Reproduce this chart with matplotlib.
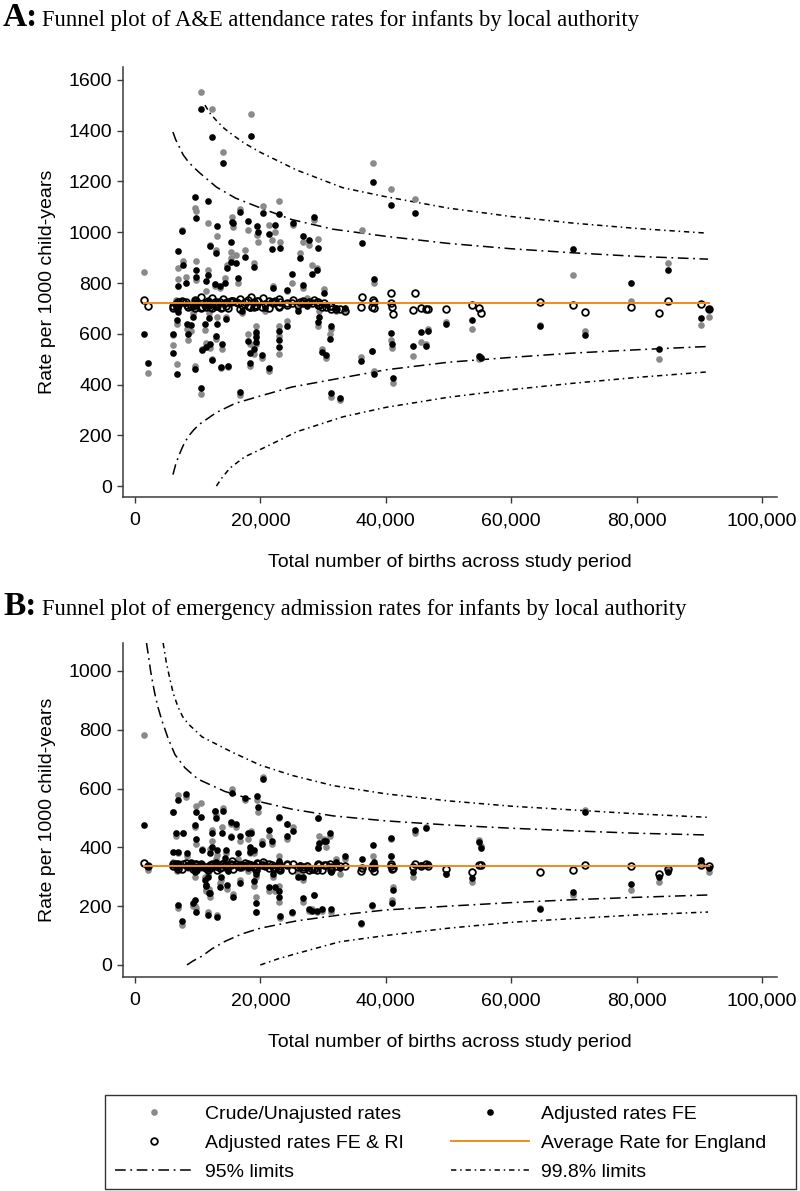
import matplotlib.pyplot as plt
from matplotlib.lines import Line2D
from matplotlib.patches import Rectangle
from matplotlib.ticker import FuncFormatter

plt.rcParams['font.family'] = ['Liberation Sans', 'DejaVu Sans']

# births per local authority (same LAs in both panels)
births = [1400, 2100,
          10500, 12300, 14000, 18450, 9600, 11600, 9700, 13100, 15500, 7500,
          12000, 15300, 6900, 13000, 7700, 9750, 14700, 15400, 11650, 9800,
          6950, 8100, 11300, 12700, 13600, 14300, 16750, 20500, 23000, 25250,
          28600, 15600, 18000, 19400, 19600, 21400, 22400, 21900, 23100, 26850,
          27800, 29200, 17500, 19000, 16200, 24990, 26300, 28300, 29000, 26800,
          22100, 24300, 16400, 30100, 6600, 6800, 6650, 9550, 9200, 11800,
          13150, 14500, 8300, 9000, 11100, 6100, 8500, 10700, 11400, 12050,
          12900, 13900, 6150, 6700, 9650, 12350, 13650, 14800, 10550, 19300,
          19250, 19350, 18300, 18050, 19050, 20200, 18400, 21450, 22950, 23050,
          23000, 24200, 29250, 29400, 29800, 30500, 31100, 31200, 16800, 31250,
          32700, 20800, 17000, 26000, 27500, 32000, 33500, 36200, 36000, 38000,
          38200, 37800, 38050,
          40800, 40900, 41000, 41100, 44700, 44400, 45700, 46400, 46800, 49600,
          53700, 54900, 55200, 64600, 69900, 71800, 79100, 83600, 85000, 90300,
          91500]

# A: A&E attendance rates per 1000 child-years
a_crude = [843, 446,
           1554, 1484, 1318, 1467, 1094, 1036, 1085, 986, 1060, 1010,
           950, 923, 860, 930, 887, 887, 870, 900, 851, 810,
           816, 822, 770, 790, 780, 820, 1090, 1103, 1124, 1030,
           1050, 1020, 1010, 990, 960, 1030, 1000, 970, 960, 960,
           950, 975, 930, 880, 910, 800, 920, 870, 860, 780,
           790, 770, 800, 775, 735, 700, 640, 700, 680, 680,
           665, 665, 617, 610, 614, 595, 575, 540, 565, 545,
           578, 540, 555, 481, 475, 500, 465, 470, 363, 630,
           600, 560, 560, 600, 520, 505, 475, 455, 630, 590,
           520, 650, 630, 690, 540, 505, 600, 620, 360, 350,
           340, 690, 680, 700, 740, 690, 690, 1009, 508, 1273,
           800, 532, 455,
           1169, 575, 545, 408, 1130, 512, 569, 560, 620, 648,
           620, 500, 510, 634, 833, 611, 730, 502, 879, 633,
           666]
a_fe = [599, 485,
        1484, 1377, 1272, 1379, 1140, 1123, 1058, 1025, 1042, 1004,
        947, 963, 926, 917, 870, 850, 858, 883, 830, 825,
        790, 800, 809, 796, 790, 800, 1081, 1075, 1072, 1038,
        1061, 1038, 1044, 1025, 1002, 993, 1029, 933, 939, 986,
        970, 937, 904, 862, 880, 835, 897, 835, 850, 792,
        780, 772, 820, 760, 720, 687, 654, 710, 666, 662,
        640, 660, 640, 634, 640, 601, 601, 536, 549, 560,
        590, 560, 523, 440, 460, 497, 470, 474, 385, 608,
        588, 569, 525, 570, 540, 516, 484, 464, 610, 575,
        547, 630, 647, 668, 529, 516, 580, 630, 372, 365,
        348, 700, 690, 690, 710, 700, 700, 958, 493, 1198,
        816, 532, 441,
        1107, 604, 560, 425, 1077, 552, 606, 552, 611, 639,
        653, 512, 506, 630, 934, 595, 801, 539, 850, 664,
        699]
a_feri = [735, 710,
          745, 740, 738, 745, 735, 730, 728, 725, 730, 728,
          722, 726, 724, 718, 725, 722, 725, 728, 724, 722,
          724, 726, 722, 724, 724, 722, 738, 740, 738, 732,
          735, 730, 732, 730, 728, 728, 730, 725, 725, 728,
          726, 726, 726, 724, 724, 722, 725, 723, 724, 722,
          720, 720, 722, 722, 718, 715, 712, 718, 714, 712,
          710, 710, 712, 710, 712, 708, 706, 704, 705, 706,
          708, 706, 702, 700, 702, 702, 700, 702, 700, 712,
          710, 708, 706, 708, 706, 704, 704, 702, 710, 708,
          706, 712, 712, 714, 706, 704, 708, 710, 698, 697,
          696, 716, 712, 714, 720, 698, 690, 745, 704, 735,
          725, 706, 700,
          759, 720, 705, 679, 761, 694, 703, 696, 696, 699,
          712, 700, 683, 726, 713, 687, 707, 683, 729, 719,
          697]

# B: emergency admission rates per 1000 child-years
b_crude = [782, 323,
           550, 460, 535, 455, 470, 180, 195, 170, 600, 136,
           395, 480, 578, 510, 450, 410, 260, 440, 306, 540,
           195, 570, 250, 525, 280, 350, 420, 640, 500, 470,
           238, 240, 430, 560, 520, 440, 250, 410, 160, 215,
           185, 400, 560, 380, 470, 175, 330, 190, 180, 290,
           300, 480, 360, 430, 440, 380, 320, 200, 200, 260,
           375, 380, 370, 340, 300, 520, 330, 395, 255, 230,
           360, 470, 350, 330, 300, 420, 290, 330, 330, 230,
           180, 300, 380, 320, 270, 420, 395, 250, 270, 370,
           215, 430, 500, 440, 185, 400, 440, 180, 290, 320,
           310, 350, 330, 310, 340, 360, 360, 330, 140, 370,
           330, 200, 340,
           430, 370, 221, 265, 450, 300, 335, 470, 340, 310,
           283, 425, 405, 195, 238, 527, 255, 283, 330, 345,
           317]
b_fe = [476, 335,
        504, 448, 525, 448, 476, 170, 181, 162, 586, 150,
        380, 487, 561, 500, 449, 427, 272, 436, 300, 520,
        204, 580, 272, 525, 266, 365, 440, 632, 504, 456,
        238, 232, 448, 573, 538, 460, 266, 420, 167, 227,
        190, 397, 567, 390, 480, 181, 340, 185, 185, 300,
        310, 478, 380, 420, 449, 383, 330, 221, 210, 245,
        390, 392, 380, 350, 290, 521, 340, 391, 270, 245,
        350, 450, 383, 345, 315, 400, 300, 320, 340, 210,
        181, 310, 385, 330, 285, 412, 400, 266, 250, 355,
        230, 440, 500, 415, 190, 420, 450, 190, 280, 315,
        330, 340, 345, 300, 330, 350, 370, 360, 143, 408,
        330, 203, 350,
        431, 372, 210, 255, 459, 317, 340, 467, 345, 310,
        295, 419, 397, 190, 249, 521, 276, 300, 317, 357,
        329]
b_feri = [348, 338,
          345, 342, 345, 340, 343, 322, 324, 322, 352, 325,
          340, 344, 345, 343, 342, 341, 330, 341, 334, 345,
          326, 347, 331, 344, 330, 340, 340, 350, 344, 342,
          328, 328, 342, 348, 345, 342, 330, 340, 322, 326,
          322, 340, 347, 338, 343, 322, 336, 325, 324, 333,
          334, 343, 338, 340, 342, 338, 335, 327, 326, 331,
          338, 339, 338, 337, 333, 344, 336, 338, 331, 330,
          337, 342, 338, 336, 334, 340, 333, 335, 336, 328,
          324, 334, 338, 335, 332, 340, 339, 330, 330, 337,
          328, 341, 343, 340, 323, 340, 342, 323, 332, 334,
          335, 337, 336, 333, 336, 337, 338, 330, 318, 340,
          320, 330, 335,
          342, 338, 325, 330, 345, 333, 335, 345, 337, 325,
          317, 340, 340, 317, 323, 340, 336, 310, 325, 340,
          335]

england_a = 722
england_b = 338

# control limits
a95_x = [6060, 6500, 7000, 7700, 8500, 9400, 10370, 13000, 16000, 20000, 25000, 31600, 40000, 50000, 60000, 69860, 80000, 91400]
a95_hi = [1395, 1365, 1340, 1305, 1278, 1255, 1233, 1178, 1135, 1096, 1050, 1012, 984, 956, 935, 919, 905, 894]
a95_lo = [45, 85, 120, 160, 195, 222, 245, 290, 326, 355, 390, 420, 458, 488, 507, 524, 537, 550]
a998_hi_x = [11160, 12000, 13000, 14200, 15500, 17500, 20000, 25800, 33200, 40000, 50000, 60000, 69860, 80000, 90900]
a998_hi = [1501, 1468, 1440, 1410, 1385, 1350, 1315, 1245, 1175, 1140, 1095, 1062, 1036, 1015, 997]
a998_lo_x = [13000, 13800, 15150, 17500, 20500, 25800, 33200, 40000, 50000, 60000, 69860, 80000, 91400]
a998_lo = [0, 30, 71, 115, 150, 214, 273, 310, 350, 380, 405, 428, 450]

b95_hi_x = [1850, 2200, 2500, 2850, 3200, 3700, 4250, 5300, 6400, 8000, 10050, 14350, 19940, 25000, 31600, 40000, 50000, 60000, 70000, 80000, 91400]
b95_hi = [1095, 1045, 1000, 958, 920, 875, 835, 770, 715, 670, 632, 590, 555, 530, 507, 490, 476, 465, 456, 448, 442]
b95_lo_x = [8300, 9300, 10700, 12300, 14350, 17000, 20000, 25800, 32700, 40000, 50000, 60000, 70000, 80000, 91400]
b95_lo = [0, 14, 30, 55, 80, 105, 125, 150, 170, 187, 200, 212, 222, 230, 238]
b998_hi_x = [4500, 5000, 5500, 6100, 6860, 7600, 8500, 10690, 15470, 19940, 25000, 31600, 40000, 50000, 60000, 70000, 80000, 91400]
b998_hi = [1095, 1030, 980, 925, 878, 845, 820, 776, 724, 680, 645, 610, 582, 558, 540, 527, 514, 502]
b998_lo_x = [20000, 23000, 26000, 32700, 40000, 50000, 60000, 70000, 80000, 91400]
b998_lo = [0, 22, 40, 79, 100, 125, 145, 158, 170, 180]

GREY = '#8a8a8a'
ORANGE = '#f28a1e'
LS95 = (0, (7, 3, 1.2, 3))
LS998 = (0, (3.5, 2.5, 1, 2.5))

W, H = 800, 1191
fig = plt.figure(figsize=(W / 100, H / 100), dpi=100)


def box(l, t, r, b):
    return [l / W, 1 - b / H, (r - l) / W, (b - t) / H]


def panel(ax, crude, fe, feri, mean, curves, ylim, yticks):
    ax.plot(births, crude, 'o', color=GREY, ms=4.8, mec='none', zorder=3)
    ax.plot(births, fe, 'o', color='black', ms=4.8, mec='none', zorder=4)
    ax.plot(births, feri, 'o', mfc='none', mec='black', mew=1.3, ms=4.8, zorder=5)
    ax.plot([min(births), max(births)], [mean, mean], color=ORANGE, lw=1.4, zorder=6)
    for xs, ys, ls in curves:
        ax.plot(xs, ys, color='black', lw=1.1, ls=ls, zorder=2)
    ax.set_xlim(-1900, 102400)
    ax.set_ylim(*ylim)
    ax.set_yticks(yticks)
    ax.set_xticks(range(0, 100001, 20000))
    ax.xaxis.set_major_formatter(FuncFormatter(lambda v, p: f'{v:,.0f}'))
    for s in ['top', 'right']:
        ax.spines[s].set_visible(False)
    for s in ['left', 'bottom']:
        ax.spines[s].set_color('#3a3a3a')
        ax.spines[s].set_linewidth(1.1)
    ax.tick_params(direction='out', length=4, width=1, color='#3a3a3a', labelsize=14, pad=4)
    ax.tick_params(axis='x', pad=7)
    ax.set_ylabel('Rate per 1000 child-years', fontsize=14, labelpad=9)
    ax.set_xlabel('Total number of births across study period', fontsize=14, labelpad=18)


axA = fig.add_axes(box(123, 67, 777, 497))
panel(axA, a_crude, a_fe, a_feri, england_a,
      [(a95_x, a95_hi, LS95), (a95_x, a95_lo, LS95),
       (a998_hi_x, a998_hi, LS998), (a998_lo_x, a998_lo, LS998)],
      (-43, 1651), range(0, 1601, 200))

axB = fig.add_axes(box(123, 643, 777, 977))
panel(axB, b_crude, b_fe, b_feri, england_b,
      [(b95_hi_x, b95_hi, LS95), (b95_lo_x, b95_lo, LS95),
       (b998_hi_x, b998_hi, LS998), (b998_lo_x, b998_lo, LS998)],
      (-41, 1095), range(0, 1001, 200))

for yb, letter, title in [(26, 'A:', 'Funnel plot of A&E attendance rates for infants by local authority'),
                          (615, 'B:', 'Funnel plot of emergency admission rates for infants by local authority')]:
    fig.text(3 / W, 1 - yb / H, letter, fontsize=24, fontweight='bold',
             family='Liberation Serif', va='baseline')
    fig.text(42 / W, 1 - yb / H, title, fontsize=16.3, family='Liberation Serif', va='baseline')

# legend
handles = [
    Line2D([], [], ls='none', marker='o', color=GREY, mec='none', ms=4.8),
    Line2D([], [], ls='none', marker='o', mfc='none', mec='black', mew=1.3, ms=4.8),
    Line2D([], [], color='black', lw=1.1, ls=LS95),
    Line2D([], [], ls='none', marker='o', color='black', mec='none', ms=4.8),
    Line2D([], [], color=ORANGE, lw=1.4),
    Line2D([], [], color='black', lw=1.1, ls=LS998),
]
labels = ['Crude/Unajusted rates', 'Adjusted rates FE & RI', '95% limits',
          'Adjusted rates FE', 'Average Rate for England', '99.8% limits']
fig.legend(handles, labels, ncol=2, loc='upper left', bbox_to_anchor=(115 / W, 1 - 1105 / H),
           frameon=False, fontsize=14, handlelength=4, handletextpad=0.65,
           columnspacing=2.4, borderpad=0, borderaxespad=0, labelspacing=0.6)
fig.patches.append(Rectangle((105 / W, 1 - 1189 / H), 691 / W, 94 / H, transform=fig.transFigure,
                             fill=False, edgecolor='#333333', lw=1))

fig.savefig('out.png', dpi=100)
